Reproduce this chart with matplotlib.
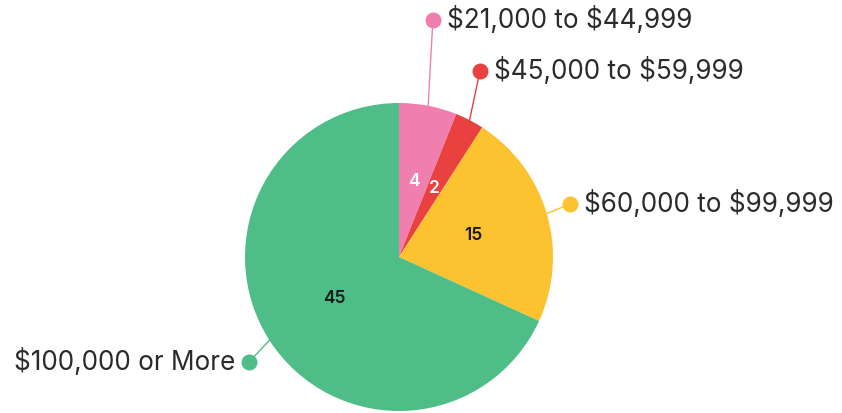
import numpy as np
import matplotlib
matplotlib.use("Agg")
import matplotlib.pyplot as plt

plt.rcParams["text.parse_math"] = False

categories = ["$21,000 to $44,999", "$45,000 to $59,999", "$60,000 to $99,999", "$100,000 or More"]
counts = [4, 2, 15, 45]
colors = ["#f07faf", "#e8413f", "#fcc22f", "#4fbd88"]
value_colors = ["white", "white", "#1a1a1a", "#1a1a1a"]

# callout dot positions (in pie-radius units) and text side
callout_xy = [(0.22, 1.54), (0.526, 1.208), (1.11, 0.344), (-0.974, -0.682)]
callout_side = ["right", "right", "right", "left"]

W, H, DPI = 842, 413, 100
fig = plt.figure(figsize=(W / DPI, H / DPI), dpi=DPI)
ax = fig.add_axes([0, 0, 1, 1])
R_PX, CX, CY = 154.0, 399.0, 257.0

wedges, texts = ax.pie(
    counts, colors=colors, startangle=90, counterclock=False,
    labels=[str(c) for c in counts], labeldistance=0.5,
    wedgeprops=dict(linewidth=0, edgecolor="none"),
    textprops=dict(fontsize=12.5, fontweight="semibold", family=["Inter", "DejaVu Sans"]),
)
for t, c in zip(texts, value_colors):
    t.set_color(c)
    t.set_ha("center")
    t.set_va("center")

for w, cat, col, (dx, dy), side in zip(wedges, categories, colors, callout_xy, callout_side):
    mid = np.deg2rad((w.theta1 + w.theta2) / 2)
    sx, sy = np.cos(mid), np.sin(mid)
    ax.plot([sx, dx], [sy, dy], color=col, lw=1.0, zorder=3)
    ax.plot([dx], [dy], marker="o", ms=11.5, color=col, mec="none", zorder=4)
    off = 14 / R_PX
    if side == "right":
        ax.text(dx + off, dy, cat, ha="left", va="center", fontsize=18.8,
                color="#2b2b2b", family=["Inter", "DejaVu Sans"])
    else:
        ax.text(dx - off, dy, cat, ha="right", va="center", fontsize=18.8,
                color="#2b2b2b", family=["Inter", "DejaVu Sans"])

ax.set_aspect("auto")
ax.set_xlim(-CX / R_PX, (W - CX) / R_PX)
ax.set_ylim(-(H - CY) / R_PX, CY / R_PX)
ax.axis("off")

fig.savefig("out.png", dpi=DPI, facecolor="white")
